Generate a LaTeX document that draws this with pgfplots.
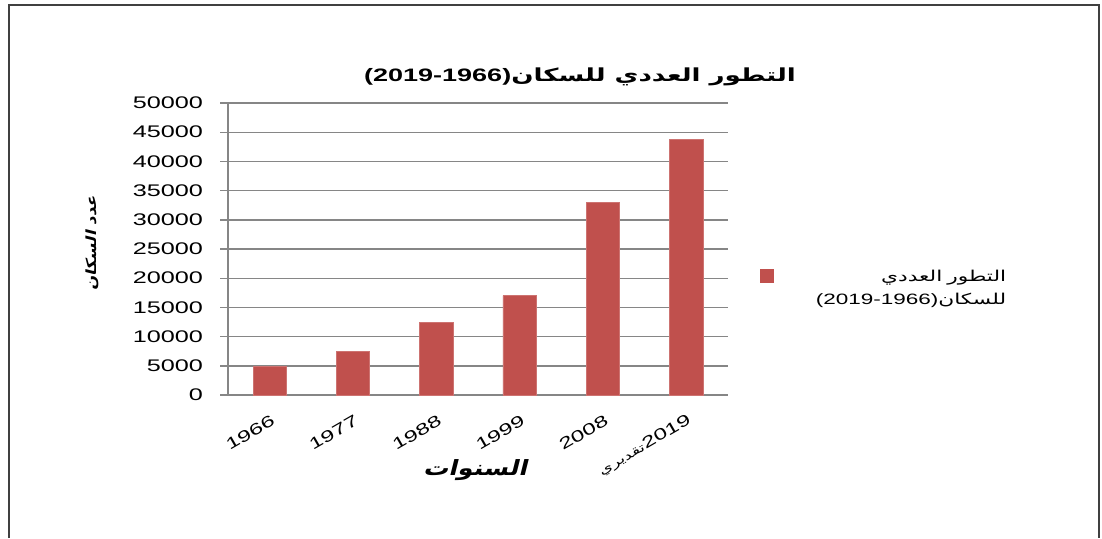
\documentclass[border=0pt]{standalone}
\usepackage{fontspec}
\setmainfont[FakeStretch=1.5]{Liberation Sans}
\newfontfamily\arabicfont[Script=Arabic, FakeStretch=1.45]{DejaVu Sans}
\newfontfamily\arabicbi[Script=Arabic, FakeSlant=0.25, FakeStretch=1.2]{DejaVu Sans Bold}
\TeXXeTstate=1
\usepackage{pgfplots}
\pgfplotsset{compat=1.18}
\definecolor{barred}{RGB}{192,80,77}
\definecolor{gridgray}{RGB}{134,134,134}

\begin{document}
\begin{tikzpicture}
\useasboundingbox (0pt,0pt) rectangle (551pt,269pt);
\draw[line width=1.2pt, black!75] (4.5pt,0pt) -- (4.5pt,266.5pt) -- (549.5pt,266.5pt) -- (549.5pt,0pt);
\begin{axis}[
    at={(114pt,71.5pt)}, anchor=south west,
    scale only axis, width=250pt, height=146pt,
    ybar, bar width=0.4,
    every axis plot post/.append style={legend image code/.code={
        \fill[barred] (0pt,-2.5pt) rectangle (6.5pt,4pt);}},
    xmin=-0.5, xmax=5.5, ymin=0, ymax=50000,
    enlargelimits=false,
    axis x line*=bottom, axis y line*=left,
    axis line style={draw=gridgray, line width=0.7pt},
    xtick={0,...,5},
    xticklabels={1966,1977,1988,1999,2008,{\beginR\beginL 2019\endL{\arabicfont\fontsize{6}{8}\selectfont تقديري}\endR}},
    x tick style={draw=none},
    extra x ticks={-0.5,0.5,1.5,2.5,3.5,4.5,5.5},
    extra x tick labels={},
    extra x tick style={tick style={draw=gridgray, line width=0.7pt}, major tick length=4pt, tick align=outside, grid=none},
    ytick={0,5000,...,50000},
    y tick style={draw=gridgray, line width=0.7pt},
    tick align=outside, major tick length=4pt,
    ymajorgrids, grid style={draw=gridgray, line width=0.7pt},
    scaled y ticks=false,
    yticklabel style={/pgf/number format/fixed, /pgf/number format/1000 sep={}, xshift=-5pt},
    /pgf/number format/assume math mode=true,
    tick label style={font=\fontsize{8.4}{10}\selectfont},
    xticklabel style={rotate=30, anchor=east, yshift=-8pt, xshift=1pt, font=\fontsize{8}{10}\selectfont},
    title={\bfseries\beginR{\arabicfont التطور العددي للسكان}\beginL(2019-1966)\endL\endR},
    title style={at={(axis description cs:0.704,1)}, anchor=center, yshift=7pt, font=\fontsize{9}{11}\selectfont},
    xlabel={\arabicbi\beginR السنوات\endR},
    xlabel style={at={(axis description cs:0.494,0)}, anchor=center, yshift=-37.5pt, font=\fontsize{10.5}{12}\selectfont},
    ylabel={\arabicbi\beginR عدد السكان\endR},
    ylabel style={at={(axis description cs:0,0.52)}, anchor=center, yshift=68pt, font=\fontsize{7}{9}\selectfont},
    legend style={draw=none, fill=none, at={(axis description cs:1.052,0.455)}, anchor=north west,
        cells={align=right, text width=114pt}, font=\fontsize{7.5}{11.5}\selectfont},
]
\addplot[fill=barred, draw=barred!80!white] coordinates {
    (0, 4900)
    (1, 7400)
    (2, 12500)
    (3, 17000)
    (4, 33000)
    (5, 43800)
};
\addlegendentry{{\arabicfont\beginR التطور العددي\endR}\\\beginR{\arabicfont للسكان}\beginL(2019-1966)\endL\endR}
\end{axis}
\end{tikzpicture}
\end{document}
